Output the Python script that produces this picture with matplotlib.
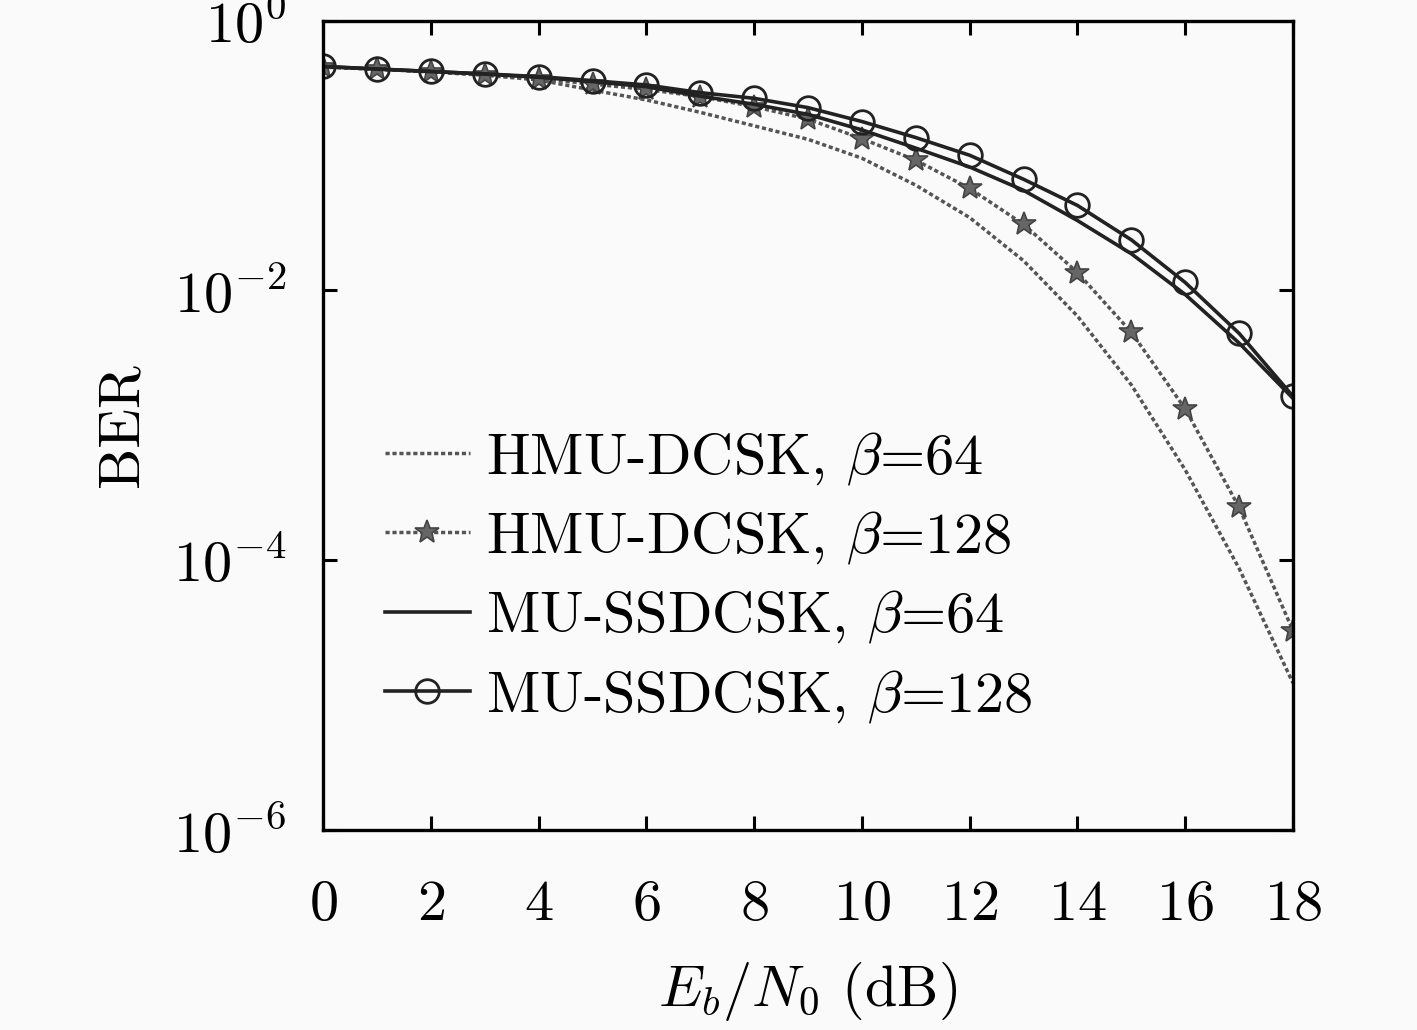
import numpy as np
import matplotlib
matplotlib.use("Agg")
import matplotlib.pyplot as plt
from matplotlib.ticker import LogFormatterSciNotation, NullLocator

plt.rcParams['font.family'] = 'serif'
plt.rcParams['font.serif'] = ['cmr10']
plt.rcParams['mathtext.fontset'] = 'cm'
plt.rcParams['axes.unicode_minus'] = False
plt.rcParams['axes.formatter.use_mathtext'] = True

snr = list(range(0, 19))
# log10(BER) values
hmu64_log = [-0.345, -0.36, -0.38, -0.405, -0.44, -0.515, -0.588, -0.68, -0.78, -0.88,
             -1.02, -1.22, -1.46, -1.78, -2.19, -2.70, -3.33, -4.06, -4.91]
hmu128_log = [-0.342, -0.36, -0.378, -0.40, -0.43, -0.47, -0.51, -0.563, -0.638, -0.73,
              -0.875, -1.035, -1.244, -1.51, -1.867, -2.31, -2.878, -3.608, -4.522]
mu64_log = [-0.340, -0.358, -0.377, -0.396, -0.42, -0.452, -0.49, -0.56, -0.62, -0.695,
            -0.81, -0.945, -1.085, -1.258, -1.482, -1.728, -2.03, -2.39, -2.80]
mu128_log = [-0.340, -0.360, -0.377, -0.395, -0.415, -0.445, -0.477, -0.534, -0.576, -0.645,
             -0.748, -0.867, -0.998, -1.176, -1.370, -1.625, -1.941, -2.318, -2.785]

labels = [r'HMU-DCSK, $\beta$=64', r'HMU-DCSK, $\beta$=128',
          r'MU-SSDCSK, $\beta$=64', r'MU-SSDCSK, $\beta$=128']
yticks = [1e-6, 1e-4, 1e-2, 1]
xticks = list(range(0, 19, 2))

hmu64 = 10 ** np.array(hmu64_log)
hmu128 = 10 ** np.array(hmu128_log)
mu64 = 10 ** np.array(mu64_log)
mu128 = 10 ** np.array(mu128_log)

fig = plt.figure(figsize=(14.17, 10.30), dpi=100, facecolor='#fafafa')
ax = fig.add_axes([0.228, 0.194, 0.6845, 0.786])
ax.set_facecolor('#fafafa')

dot = (0, (1.2, 0.8))
ax.plot(snr, hmu64, color='#555555', lw=2.5, linestyle=dot, label=labels[0])
ax.plot(snr, hmu128, color='#555555', lw=2.5, linestyle=dot, marker='*', ms=18,
        markerfacecolor='#666666', markeredgecolor='#444444', markeredgewidth=1.2,
        label=labels[1])
ax.plot(snr, mu64, color='#222222', lw=2.6, linestyle='-', label=labels[2])
ax.plot(snr, mu128, color='#222222', lw=2.6, linestyle='-', marker='o', ms=17,
        markerfacecolor='none', markeredgecolor='#222222', markeredgewidth=2.0,
        label=labels[3])

ax.set_yscale('log')
ax.set_xlim(0, 18)
ax.set_ylim(1e-6, 1)
ax.set_xticks(xticks)
ax.set_yticks(yticks)
ax.yaxis.set_major_formatter(LogFormatterSciNotation())
ax.yaxis.set_minor_locator(NullLocator())

ax.tick_params(axis='both', which='major', direction='in', length=10, width=2.2,
               top=True, right=True, labelsize=42)
ax.tick_params(axis='x', pad=36)
ax.tick_params(axis='y', pad=26)
for s in ax.spines.values():
    s.set_linewidth(2.4)

ax.set_xlabel(r'$E_b/N_0$ (dB)', fontsize=42, labelpad=20)
ax.set_ylabel('BER', fontsize=42, labelpad=18)

leg = ax.legend(loc='upper left', bbox_to_anchor=(0.04, 0.523), frameon=False,
                fontsize=42, handlelength=1.45, handletextpad=0.28, labelspacing=0.38,
                borderaxespad=0)

fig.savefig('out.png', dpi=100, facecolor=fig.get_facecolor())
